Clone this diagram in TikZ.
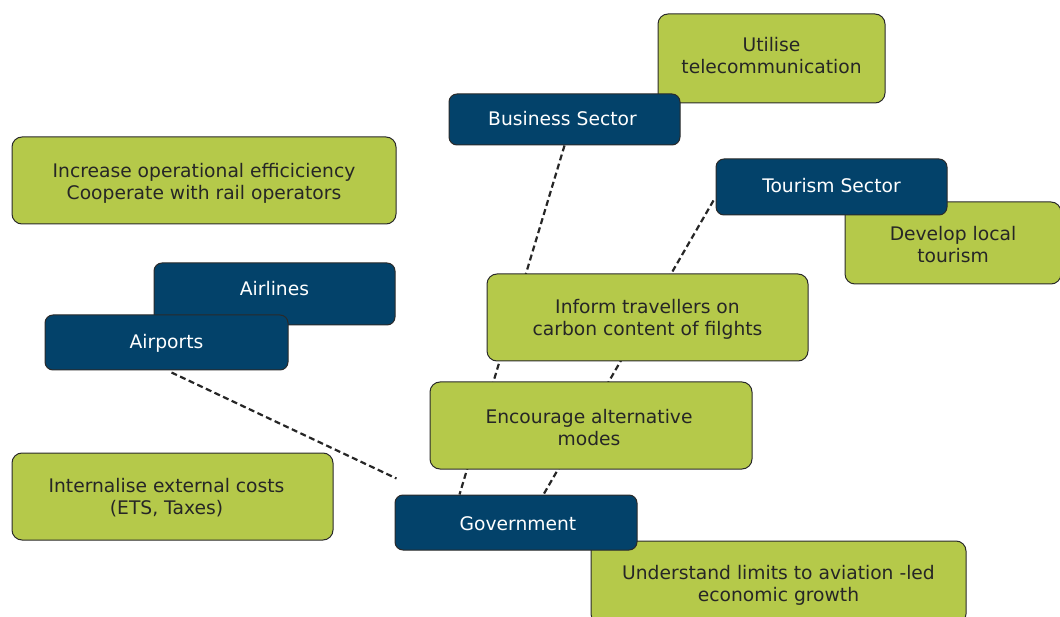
\documentclass[tikz,border=0pt]{standalone}
\usepackage{fontspec}
\setmainfont{DejaVu Sans}
\usetikzlibrary{calc,backgrounds}
\definecolor{navy}{HTML}{03426A}
\definecolor{olive}{HTML}{B5C94A}
\definecolor{ink}{HTML}{262626}
\definecolor{edge}{HTML}{2A2A2A}
\tikzset{
  box/.style={draw=edge, line width=1pt, inner sep=0pt},
  actor/.style={box, fill=navy, rounded corners=8pt},
  action/.style={box, fill=olive, rounded corners=10pt},
  txt/.style={inner sep=0pt, align=center, font=\fontsize{18.7}{22}\selectfont},
  wtxt/.style={txt, text=white},
  dtxt/.style={txt, text=ink},
  link/.style={draw=ink, line width=2.2pt, dash pattern=on 6pt off 3.5pt}
}
\begin{document}
\begin{tikzpicture}[x=1pt,y=-1pt]
\useasboundingbox (0,0) rectangle (1060,617);
% actions underneath
\node[action, minimum width=227pt, minimum height=89pt] (UT) at (771.5,58.5) {};
\node[dtxt] (UTt) at ($(UT.center)+(0,-3)$) {Utilise\\telecommunication};
\node[action, minimum width=384pt, minimum height=87pt] (IO) at (204,180.5) {};
\node[dtxt] (IOt) at ($(IO.center)+(0,3)$) {Increase operational efficiciency\\Cooperate with rail operators};
\node[action, minimum width=216pt, minimum height=82pt] (DL) at (953,243) {};
\node[dtxt] (DLt) at ($(DL.center)+(0,2)$) {Develop local\\tourism};
\node[action, minimum width=321pt, minimum height=87pt] (IT) at (647.5,317.5) {};
\node[dtxt] (ITt) at ($(IT.center)+(0,2)$) {Inform travellers on\\carbon content of filghts};
\node[action, minimum width=322pt, minimum height=87pt] (EA) at (591,425.5) {};
\node[dtxt] (EAt) at ($(EA.center)+(-2,2)$) {Encourage alternative\\modes};
\node[action, minimum width=321pt, minimum height=87pt] (IE) at (172.5,496.5) {};
\node[dtxt] (IEt) at ($(IE.center)+(-6,1)$) {Internalise external costs\\(ETS, Taxes)};
\node[action, minimum width=375pt, minimum height=83pt] (UL) at (778.5,582.5) {};
\node[dtxt] (ULt) at ($(UL.center)+(0,2.5)$) {Understand limits to aviation -led\\economic growth};
% actors
\node[actor, minimum width=231pt, minimum height=51pt] (BS) at (564.5,119.5) {};
\node[wtxt] (BSt) at ($(BS.center)+(-2,-1)$) {Business Sector};
\node[actor, minimum width=241pt, minimum height=62pt] (AL) at (274.5,294) {};
\node[wtxt] (ALt) at ($(AL.center)+(0,-5)$) {Airlines};
\node[actor, minimum width=243pt, minimum height=55pt] (AP) at (166.5,342.5) {};
\node[wtxt] (APt) at ($(AP.center)+(0,1)$) {Airports};
\node[actor, minimum width=231pt, minimum height=56pt] (TS) at (831.5,187) {};
\node[wtxt] (TSt) at ($(TS.center)+(0,-1)$) {Tourism Sector};
\node[actor, minimum width=242pt, minimum height=55pt] (GV) at (516,522.5) {};
\node[wtxt] (GVt) at ($(GV.center)+(2,1)$) {Government};
% connectors
\coordinate (bsend) at ($(GV.north west)+(65,0)$);
\coordinate (tsstart) at ($(TS.south west)+(-2,-15)$);
\coordinate (tsend) at ($(GV.north west)+(149,0)$);
\coordinate (apstart) at ($(AP.south)+(5,2)$);
\coordinate (apend) at ($(GV.north west)+(2,-16)$);
\begin{pgfonlayer}{background}
\draw[link] (BS.south) -- (bsend);
\draw[link] (tsstart) -- (tsend);
\draw[link] (apstart) -- (apend);
\end{pgfonlayer}
\end{tikzpicture}
\end{document}
